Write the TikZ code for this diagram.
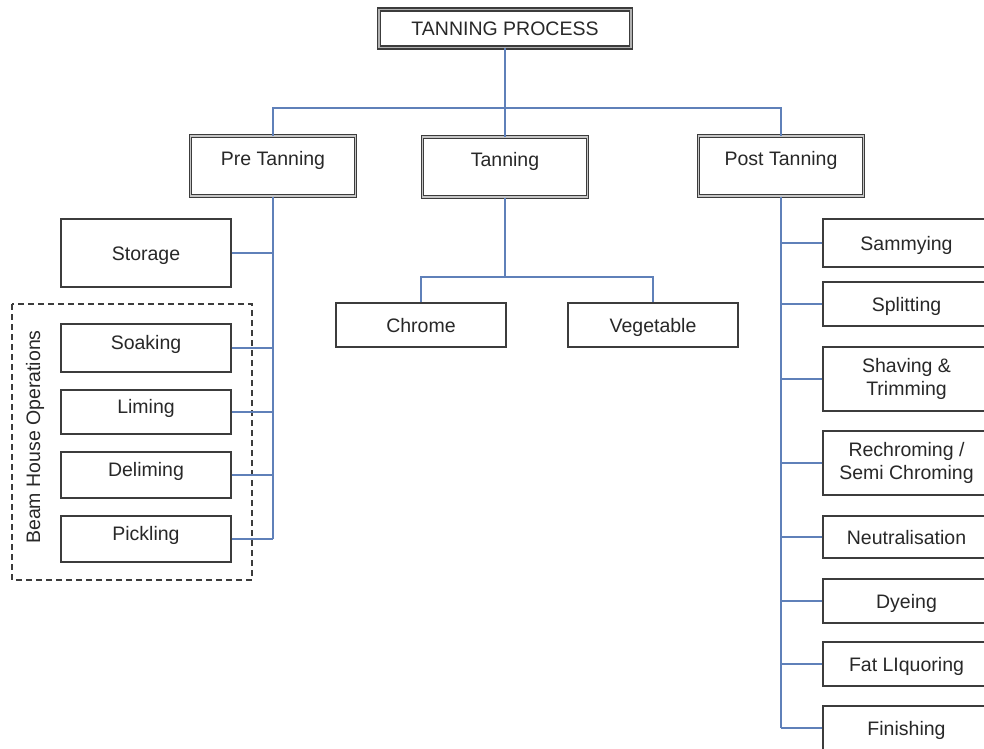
\documentclass[tikz,border=0pt]{standalone}
\usepackage{fontspec}
\setmainfont{Liberation Sans}
\definecolor{conncol}{RGB}{95,128,185}
\definecolor{boxline}{RGB}{60,60,60}
\definecolor{txtcol}{RGB}{40,40,40}
\tikzset{
  base/.style={rectangle, draw=boxline, line width=1.3pt, fill=white, text=txtcol,
    font=\fontsize{19.5}{23}\selectfont, align=center, inner sep=0pt},
  plainbox/.style={base, minimum width=170pt, text height=14pt, text depth=0pt},
  leftbox/.style={base, minimum width=170pt, text height=14pt, text depth=12pt},
  rightbox/.style={base, minimum width=167pt, text height=14pt, text depth=0pt},
  tworow/.style={text height={}, text depth={}},
  dblbox/.style={base, line width=1pt, double=gray!45, double distance=1.6pt,
    minimum width=165pt, minimum height=60pt, text height=14pt, text depth=16pt},
  rootbox/.style={base, line width=1.4pt, double=gray!60, double distance=1.4pt,
    minimum width=252pt, minimum height=38pt, text height=14pt, text depth=0pt},
  conn/.style={draw=conncol, line width=1.6pt},
  group/.style={draw=boxline, line width=1.3pt, dash pattern=on 6pt off 4pt}
}
\begin{document}
\begin{tikzpicture}[x=1pt,y=-1pt]
\clip (0,0) rectangle (984,748);
\fill[white] (0,0) rectangle (984,748);

% group frame
\draw[group] (12,304) rectangle (252,580);
\node[text=txtcol, font=\fontsize{19.5}{23}\selectfont, rotate=90] (beam) at (35,437) {Beam House Operations};

% nodes
\node[rootbox] (root) at (505,28.5) {TANNING PROCESS};
\node[dblbox] (pre) at (273,166) {Pre Tanning};
\node[dblbox] (tan) at (505,167) {Tanning};
\node[dblbox] (post) at (781,166) {Post Tanning};

\node[plainbox, minimum height=68pt] (stor) at (146,253) {Storage};
\node[leftbox, minimum height=48pt] (soak) at (146,348) {Soaking};
\node[leftbox, minimum height=44pt] (lime) at (146,412) {Liming};
\node[leftbox, minimum height=46pt] (delime) at (146,475) {Deliming};
\node[leftbox, minimum height=46pt] (pick) at (146,539) {Pickling};

\node[plainbox, minimum height=44pt] (chrome) at (421,325) {Chrome};
\node[plainbox, minimum height=44pt] (veg) at (653,325) {Vegetable};

\node[rightbox, minimum height=48pt] (samm) at (906.5,243) {Sammying};
\node[rightbox, minimum height=44pt] (split) at (906.5,304) {Splitting};
\node[rightbox, tworow, minimum height=64pt] (shave) at (906.5,379) {Shaving \&\\Trimming};
\node[rightbox, tworow, minimum height=64pt] (rechr) at (906.5,463) {Rechroming /\\Semi Chroming};
\node[rightbox, minimum height=42pt] (neut) at (906.5,537) {Neutralisation};
\node[rightbox, minimum height=44pt] (dye) at (906.5,601) {Dyeing};
\node[rightbox, minimum height=44pt] (fat) at (906.5,664) {Fat LIquoring};
\node[rightbox, minimum height=44pt] (fin) at (906.5,728) {Finishing};

\coordinate (bus) at (505,108);
\coordinate (tbus) at (505,277);

% connectors level 1
\draw[conn] (root.south) -- (bus);
\draw[conn] (pre.north) |- (bus) -| (post.north);
\draw[conn] (bus) -- (tan.north);

% pre tanning
\draw[conn] (pre.south) -- (pre.south |- pick.east);
\foreach \n in {stor,soak,lime,delime,pick}
  \draw[conn] (\n.east) -- (\n.east -| pre.south);

% tanning
\draw[conn] (tan.south) -- (tbus);
\draw[conn] (chrome.north) |- (tbus) -| (veg.north);

% post tanning
\draw[conn] (post.south) -- (post.south |- fin.west);
\foreach \n in {samm,split,shave,rechr,neut,dye,fat,fin}
  \draw[conn] (\n.west) -- (\n.west -| post.south);
\end{tikzpicture}
\end{document}
